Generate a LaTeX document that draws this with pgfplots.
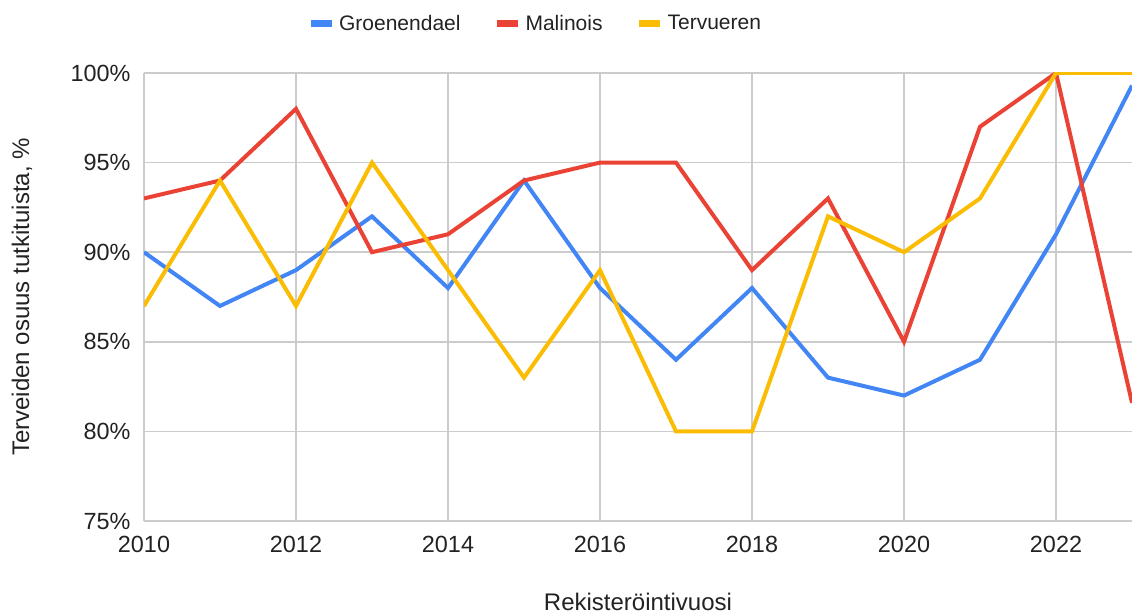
\documentclass[border=0pt]{standalone}
\usepackage{pgfplots}
\pgfplotsset{compat=1.18}
\usepackage{fontspec}
\setmainfont{Liberation Sans}
\definecolor{gblue}{HTML}{4285F4}
\definecolor{gred}{HTML}{EA4335}
\definecolor{gyellow}{HTML}{FBBC04}
\definecolor{ggrid}{HTML}{CCCCCC}
\definecolor{gtext}{HTML}{222222}
\begin{document}
\begin{tikzpicture}
\begin{axis}[
  scale only axis,
  width=494pt, height=224pt,
  xmin=2010, xmax=2023, ymin=75, ymax=100,
  xtick={2010,2012,...,2022},
  ytick={75,80,...,100},
  grid=major,
  major grid style={ggrid, line width=0.75pt},
  axis line style={draw=none},
  tick style={draw=none},
  /pgf/number format/assume math mode=true,
  x tick label style={/pgf/number format/1000 sep={}, font=\fontsize{11.7}{13}\selectfont, text=gtext, yshift=-4pt},
  y tick label style={font=\fontsize{11.7}{13}\selectfont, text=gtext, xshift=-3.2pt},
  yticklabel={\pgfmathprintnumber{\tick}\%},
  xlabel={Rekisteröintivuosi},
  ylabel={Terveiden osuus tutkituista, \%},
  label style={font=\fontsize{12}{14}\selectfont, text=gtext},
  xlabel style={at={(axis description cs:0.5,0)}, anchor=center, yshift=-40.5pt},
  ylabel style={at={(axis description cs:-0.1235,0.5)}, anchor=center},
  legend columns=3,
  legend style={draw=none, fill=none, font=\fontsize{10.5}{12}\selectfont, text=gtext,
    at={(rel axis cs:0.3968,1)}, anchor=center, yshift=24.5pt,
    /tikz/every even column/.append style={column sep=14.5pt}},
  legend image code/.code={\draw[line width=3.5pt] (0pt,0pt) -- (10.5pt,0pt);},
  clip=true,
]
\addplot[gblue, line width=2pt] coordinates {
(2010,90) (2011,87) (2012,89) (2013,92) (2014,88) (2015,94) (2016,88)
(2017,84) (2018,88) (2019,83) (2020,82) (2021,84) (2022,91) (2023,99.3)};
\addlegendentry{Groenendael}
\addplot[gred, line width=2pt] coordinates {
(2010,93) (2011,94) (2012,98) (2013,90) (2014,91) (2015,94) (2016,95)
(2017,95) (2018,89) (2019,93) (2020,85) (2021,97) (2022,100) (2023,81.6)};
\addlegendentry{Malinois}
\addplot[gyellow, line width=2pt] coordinates {
(2010,87) (2011,94) (2012,87) (2013,95) (2014,89) (2015,83) (2016,89)
(2017,80) (2018,80) (2019,92) (2020,90) (2021,93) (2022,100) (2023,100)};
\addlegendentry{Tervueren}
\end{axis}
\pgfresetboundingbox
\path ([shift={(-72pt,-47pt)}]current axis.south west) rectangle ([shift={(0pt,36.5pt)}]current axis.north east);
\end{tikzpicture}
\end{document}
